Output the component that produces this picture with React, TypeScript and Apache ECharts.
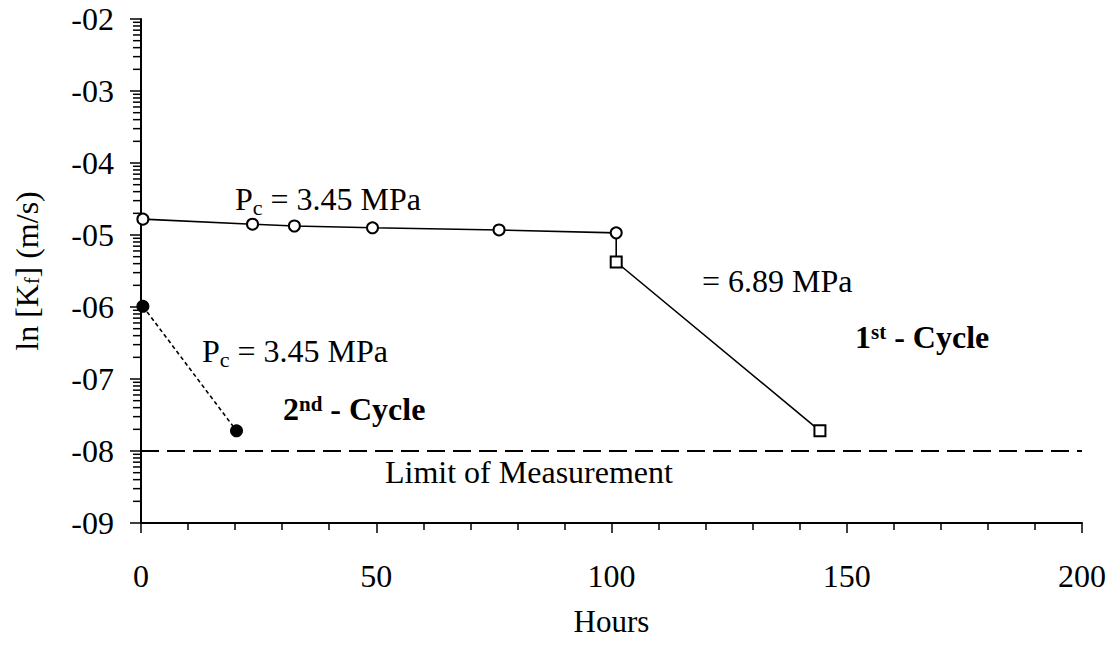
import React, { useEffect, useRef } from "react";
import * as echarts from "echarts";

// ---- data (log10 hydraulic conductivity exponents vs hours) ----
const firstCycleLowHours = [0.4, 23.7, 32.6, 49.2, 76.1, 101];
const firstCycleLowLnK = [-4.78, -4.85, -4.875, -4.9, -4.93, -4.97];
const firstCycleHighHours = [101, 144.3];
const firstCycleHighLnK = [-5.375, -7.72];
const secondCycleHours = [0.4, 20.3];
const secondCycleLnK = [-5.99, -7.72];
const limitHours = [0, 200];
const limitLnK = [-8, -8];
const xTicks = [0, 50, 100, 150, 200];
const yMin = -9;
const yMax = -2;
// minor tick multipliers within each decade of the y axis
const decadeMultipliers = [2, 3, 4, 5, 6, 7, 8, 9];

const FONT = "'Liberation Serif', 'Times New Roman', serif";

function yLabel(v: number): string {
  const a = Math.abs(Math.round(v));
  return (v < 0 ? "-" : "") + (a < 10 ? "0" + a : String(a));
}

export default function App() {
  const ref = useRef<HTMLDivElement>(null);

  useEffect(() => {
    document.body.style.margin = "0";
    if (!ref.current) return;
    const chart = echarts.init(ref.current, undefined, { renderer: "svg" });

    const minorY: number[][] = [];
    for (let d = yMin; d < yMax; d++) {
      for (const k of decadeMultipliers) minorY.push([0, d + Math.log10(k)]);
    }

    const FS = 32;
    const main = { fontSize: FS, lineHeight: FS, fontFamily: FONT, verticalAlign: "top", fill: "#000" };
    const bold = { ...main, fontWeight: "bold" };
    const sub = { fontSize: 22, lineHeight: 22, fontFamily: FONT, verticalAlign: "top", padding: [13, 0, 0, 0], fill: "#000" };
    const sup = { fontSize: 21, lineHeight: 21, fontFamily: FONT, fontWeight: "bold", verticalAlign: "top", fill: "#000" };
    const rich = { m: main, b: bold, s: sub, p: sup };

    const txt = (x: number, baseline: number, text: string) => ({
      type: "text",
      x,
      y: baseline - 27,
      style: { text, rich, align: "left", verticalAlign: "top", fill: "#000", font: `${FS}px ${FONT}` },
    });

    const option: any = {
      animation: false,
      backgroundColor: "#fff",
      grid: { left: 141, right: 24, top: 19, bottom: 125, containLabel: false },
      xAxis: {
        type: "value",
        min: 0,
        max: 200,
        interval: 50,
        name: "Hours",
        nameLocation: "middle",
        nameGap: 83,
        nameTextStyle: { fontSize: 31, fontFamily: FONT, color: "#000" },
        axisLine: { onZero: false, lineStyle: { color: "#000", width: 2 } },
        axisTick: { show: true, length: 10, inside: false, lineStyle: { color: "#000", width: 1.5 } },
        minorTick: { show: true, splitNumber: 5, length: 7, lineStyle: { color: "#000", width: 1.5 } },
        splitLine: { show: false },
        axisLabel: {
          fontSize: 32,
          fontFamily: FONT,
          color: "#000",
          margin: 37,
          customValues: xTicks,
        },
      },
      yAxis: {
        type: "value",
        min: yMin,
        max: yMax,
        interval: 1,
        name: "{m|ln [K}{s|f}{m|] (m/s)}",
        nameLocation: "middle",
        nameGap: 98,
        nameTextStyle: {
          fontSize: 32,
          fontFamily: FONT,
          color: "#000",
          rich: {
            m: { fontSize: 32, lineHeight: 32, fontFamily: FONT, verticalAlign: "top", color: "#000" },
            s: { fontSize: 20, lineHeight: 20, fontFamily: FONT, verticalAlign: "top", padding: [11, 0, 0, 0], color: "#000" },
          },
        },
        axisLine: { onZero: false, lineStyle: { color: "#000", width: 2 } },
        axisTick: { show: true, length: 11, inside: false, lineStyle: { color: "#000", width: 1.5 } },
        splitLine: { show: false },
        axisLabel: {
          fontSize: 32,
          fontFamily: FONT,
          color: "#000",
          margin: 27,
          formatter: (v: number) => yLabel(v),
        },
      },
      series: [
        {
          name: "y minor ticks",
          type: "custom",
          clip: false,
          silent: true,
          data: minorY,
          renderItem: (_p: any, api: any) => {
            const pt = api.coord([api.value(0), api.value(1)]);
            return {
              type: "rect",
              shape: { x: pt[0] - 8, y: pt[1] - 0.75, width: 8, height: 1.5 },
              style: { fill: "#000" },
            };
          },
          z: 10,
        },
        {
          name: "Limit of Measurement",
          type: "line",
          data: limitHours.map((h, i) => [h, limitLnK[i]]),
          symbol: "none",
          lineStyle: { color: "#000", width: 2, type: [18, 8] },
          z: 2,
        },
        {
          name: "1st cycle 3.45 MPa",
          type: "line",
          data: firstCycleLowHours.map((h, i) => [h, firstCycleLowLnK[i]]),
          symbol: "emptyCircle",
          symbolSize: 11,
          itemStyle: { color: "#000", borderColor: "#000", borderWidth: 1.8 },
          lineStyle: { color: "#000", width: 1.6 },
          z: 4,
        },
        {
          name: "1st cycle 6.89 MPa",
          type: "line",
          data: [
            { value: [firstCycleLowHours[firstCycleLowHours.length - 1], firstCycleLowLnK[firstCycleLowLnK.length - 1]], symbol: "none" },
            ...firstCycleHighHours.map((h, i) => [h, firstCycleHighLnK[i]]),
          ],
          symbol: "emptyRect",
          symbolSize: 11,
          itemStyle: { color: "#000", borderColor: "#000", borderWidth: 1.8 },
          lineStyle: { color: "#000", width: 1.6 },
          z: 3,
        },
        {
          name: "2nd cycle 3.45 MPa",
          type: "line",
          data: secondCycleHours.map((h, i) => [h, secondCycleLnK[i]]),
          symbol: "circle",
          symbolSize: 13,
          itemStyle: { color: "#000" },
          lineStyle: { color: "#000", width: 1.6, type: [4, 3] },
          z: 4,
        },
      ],
      graphic: [
        txt(235, 210, "{m|P}{s|c}{m| = 3.45 MPa}"),
        txt(702, 292, "{m|= 6.89 MPa}"),
        txt(855, 348, "{b|1}{p|st}{b| - Cycle}"),
        txt(202, 362, "{m|P}{s|c}{m| = 3.45 MPa}"),
        txt(283, 420, "{b|2}{p|nd}{b| - Cycle}"),
        txt(385, 483, "{m|Limit of Measurement}"),
      ],
    };

    chart.setOption(option);
    return () => chart.dispose();
  }, []);

  return <div ref={ref} style={{ width: 1109, height: 648 }} />;
}
